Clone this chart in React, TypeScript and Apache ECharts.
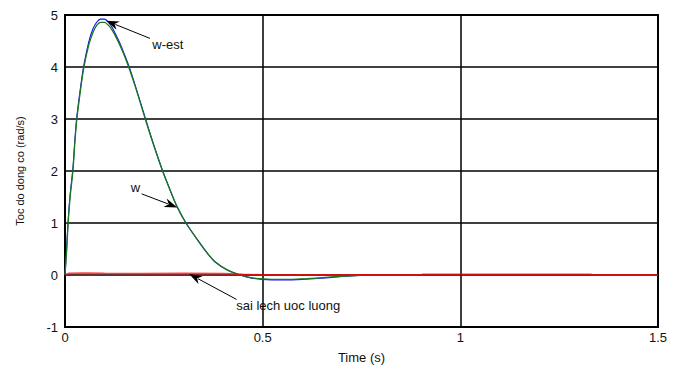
import React, { useEffect, useRef } from "react";
import * as echarts from "echarts";

const timeW = [0, 0.004, 0.008, 0.013, 0.02, 0.025, 0.03, 0.04, 0.048, 0.06, 0.07, 0.08, 0.09, 0.1, 0.11, 0.12, 0.13, 0.14, 0.15, 0.162, 0.18, 0.203, 0.225, 0.247, 0.265, 0.283, 0.306, 0.333, 0.36, 0.38, 0.41, 0.443, 0.47, 0.5, 0.55, 0.6, 0.65, 0.7, 0.75];
const wValues = [0, 0.45, 1.0, 1.5, 2.0, 2.55, 3.0, 3.6, 4.0, 4.42, 4.65, 4.8, 4.86, 4.86, 4.8, 4.7, 4.56, 4.4, 4.22, 3.98, 3.57, 3.0, 2.48, 2.0, 1.65, 1.32, 1.0, 0.7, 0.42, 0.25, 0.1, 0, -0.05, -0.075, -0.085, -0.075, -0.05, -0.025, -0.005];
const wEstValues = [0, 0.5, 1.05, 1.55, 2.05, 2.6, 3.05, 3.65, 4.05, 4.48, 4.72, 4.86, 4.92, 4.92, 4.86, 4.75, 4.6, 4.44, 4.25, 4.01, 3.59, 3.02, 2.49, 2.0, 1.65, 1.32, 1.0, 0.7, 0.42, 0.25, 0.1, 0, -0.055, -0.085, -0.095, -0.085, -0.06, -0.03, -0.005];

const timeErr = [0, 0.01, 0.05, 0.1, 0.2, 0.3, 0.4, 0.45, 0.5, 0.9, 0.905, 1.33, 1.335, 1.5];
const errValues = [0, 0.03, 0.035, 0.03, 0.025, 0.03, 0.025, 0.012, 0, 0, 0.012, 0.012, 0, 0];

const xTicks = [0, 0.5, 1, 1.5];
const yTicks = [-1, 0, 1, 2, 3, 4, 5];

// annotations in data coordinates: label, text anchor, arrow tail, arrow tip
const annotations = [
  { label: "w-est", text: [0.221, 4.44], tail: [0.215, 4.55], tip: [0.104, 4.89], align: "left" },
  { label: "w", text: [0.178, 1.69], tail: [0.194, 1.56], tip: [0.284, 1.3], align: "center" },
  { label: "sai lech uoc luong", text: [0.433, -0.58], tail: [0.434, -0.47], tip: [0.314, 0.02], align: "left" },
];

const FONT = "'Liberation Sans', Arial, sans-serif";

export default function App() {
  const ref = useRef<HTMLDivElement>(null);
  useEffect(() => {
    if (!ref.current) return;
    const chart = echarts.init(ref.current, undefined, { renderer: "svg" });
    const pair = (xs: number[], ys: number[]) => xs.map((x, i) => [x, ys[i]]);
    chart.setOption({
      animation: false,
      backgroundColor: "#fff",
      textStyle: { fontFamily: FONT },
      grid: { left: 65, top: 15, width: 593, height: 319, show: true, borderColor: "#000", borderWidth: 2, backgroundColor: "#fff" },
      xAxis: {
        type: "value",
        min: xTicks[0],
        max: xTicks[xTicks.length - 1],
        interval: 0.5,
        name: "Time (s)",
        nameLocation: "middle",
        nameGap: 24,
        nameTextStyle: { color: "#111", fontSize: 13, fontFamily: FONT },
        axisLine: { show: false },
        axisTick: { show: false },
        axisLabel: { color: "#111", fontSize: 13, margin: 4, fontFamily: FONT, formatter: (v: number) => String(v) },
        splitLine: { show: true, lineStyle: { color: "#000", width: 1.5 } },
      },
      yAxis: {
        type: "value",
        min: yTicks[0],
        max: yTicks[yTicks.length - 1],
        interval: 1,
        name: "Toc do dong co (rad/s)",
        nameLocation: "middle",
        nameGap: 40,
        nameRotate: 90,
        nameTextStyle: { color: "#111", fontSize: 11, fontFamily: FONT },
        axisLine: { show: false },
        axisTick: { show: false },
        axisLabel: { color: "#111", fontSize: 13, margin: 7, fontFamily: FONT },
        splitLine: { show: true, lineStyle: { color: "#000", width: 1.5 } },
      },
      series: [
        { name: "w", type: "line", data: pair(timeW, wValues), showSymbol: false, smooth: 0.3, lineStyle: { color: "#1a7a1a", width: 1.3 }, z: 3 },
        { name: "w-est", type: "line", data: pair(timeW, wEstValues), showSymbol: false, smooth: 0.3, lineStyle: { color: "#1010ee", width: 1.1 }, z: 2 },
        { name: "sai lech uoc luong", type: "line", data: pair(timeErr, errValues), showSymbol: false, lineStyle: { color: "#ff0000", width: 1.8, opacity: 0.75 }, z: 4 },
      ],
    });

    const graphics: any[] = [];
    annotations.forEach((a) => {
      const tp = chart.convertToPixel({ gridIndex: 0 }, a.text) as number[];
      const tl = chart.convertToPixel({ gridIndex: 0 }, a.tail) as number[];
      const tip = chart.convertToPixel({ gridIndex: 0 }, a.tip) as number[];
      const dx = tip[0] - tl[0];
      const dy = tip[1] - tl[1];
      const len = Math.sqrt(dx * dx + dy * dy);
      const ux = dx / len, uy = dy / len;
      const hl = 13, hw = 4.5;
      const bx = tip[0] - ux * hl, by = tip[1] - uy * hl;
      const nx = -uy, ny = ux;
      graphics.push({
        type: "line",
        shape: { x1: tl[0], y1: tl[1], x2: bx + ux * 3, y2: by + uy * 3 },
        style: { stroke: "#000", lineWidth: 1 },
        z: 10,
      });
      graphics.push({
        type: "polygon",
        shape: { points: [[tip[0], tip[1]], [bx + nx * hw, by + ny * hw], [tip[0] - ux * hl * 0.7, tip[1] - uy * hl * 0.7], [bx - nx * hw, by - ny * hw]] },
        style: { fill: "#000" },
        z: 10,
      });
      graphics.push({
        type: "text",
        x: tp[0],
        y: tp[1],
        style: { text: a.label, fill: "#111", font: `13px ${FONT}`, align: a.align, verticalAlign: "middle" },
        z: 11,
      });
    });
    chart.setOption({ graphic: graphics });
    return () => chart.dispose();
  }, []);
  return <div ref={ref} style={{ width: 686, height: 369, position: "absolute", left: 0, top: 0 }} />;
}
